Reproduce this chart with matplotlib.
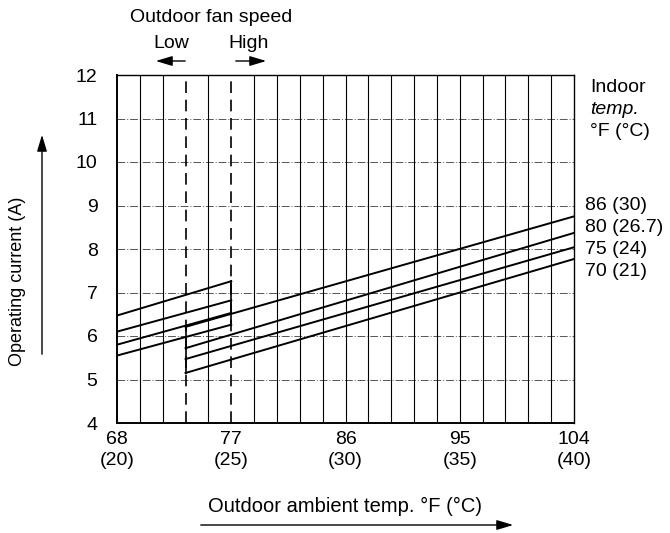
import matplotlib
matplotlib.use('Agg')
import matplotlib.pyplot as plt

plt.rcParams['font.family'] = ['Liberation Sans', 'DejaVu Sans']

# outdoor temp in deg C (x axis), operating current in A
low_x = [20, 25]     # low fan speed range
high_x = [23, 40]    # high fan speed range

low_86 = [6.47, 7.26]
low_80 = [6.10, 6.82]
low_75 = [5.80, 6.53]
low_70 = [5.55, 6.26]

high_86 = [6.21, 8.75]
high_80 = [5.72, 8.37]
high_75 = [5.47, 8.04]
high_70 = [5.15, 7.77]

indoor_labels = ['86 (30)', '80 (26.7)', '75 (24)', '70 (21)']
x_ticks_c = [20, 25, 30, 35, 40]
x_ticks_f = [68, 77, 86, 95, 104]
y_ticks = [4, 5, 6, 7, 8, 9, 10, 11, 12]

W, H = 670, 533
FS = 14


def px(x, y):
    # pixel position (from top-left) -> figure fraction
    return (x / W, 1 - y / H)


fig = plt.figure(figsize=(W / 100, H / 100), dpi=100)
ax = fig.add_axes([117 / W, 1 - 423 / H, (574 - 117) / W, (423 - 75) / H])
ax.set_xlim(20, 40)
ax.set_ylim(4, 12)

# horizontal dash-dot grid
for yv in y_ticks[1:-1]:
    ax.axhline(yv, color='#555555', lw=0.7, ls=(0, (8, 2, 1, 2)), zorder=1)

# vertical grid every 1 deg C, dashed at fan speed change
for xv in range(21, 40):
    if xv in (23, 25):
        ax.axvline(xv, color='k', lw=1.2, ls=(0, (7, 4)), zorder=2)
    else:
        ax.axvline(xv, color='k', lw=0.8, zorder=2)

for yy in [low_86, low_80, low_75, low_70]:
    ax.plot(low_x, yy, color='k', lw=1.4, zorder=3)
for yy in [high_86, high_80, high_75, high_70]:
    ax.plot(high_x, yy, color='k', lw=1.4, zorder=3)

# short solid bits where the line sets stop/start
ax.plot([low_x[1]] * 2, [low_70[1], low_86[1]], color='k', lw=1.2, zorder=3)
ax.plot([high_x[0]] * 2, [high_70[0], high_86[0]], color='k', lw=1.2, zorder=3)

for s in ax.spines.values():
    s.set_linewidth(1.0)
ax.spines['left'].set_linewidth(1.4)
ax.spines['bottom'].set_linewidth(1.4)

ax.set_xticks(x_ticks_c)
ax.set_xticklabels([f'{f}\n({c})' for f, c in zip(x_ticks_f, x_ticks_c)], fontsize=FS)
for lbl in ax.get_xticklabels():
    lbl.set_linespacing(1.25)
ax.set_yticks(y_ticks)
ax.set_yticklabels([str(v) for v in y_ticks], fontsize=FS)
ax.tick_params(axis='x', length=0, pad=6)
ax.tick_params(axis='y', length=0, pad=14)

# indoor temperature labels on the right
fig.text(*px(590, 88), 'Indoor', fontsize=FS, va='center', ha='left')
fig.text(*px(590, 110), 'temp.', fontsize=FS, va='center', ha='left', style='italic')
fig.text(*px(590, 132), '°F (°C)', fontsize=FS, va='center', ha='left')
label_y = [205, 227, 250, 272]
for lab, yp in zip(indoor_labels, label_y):
    fig.text(*px(585, yp), lab, fontsize=FS, va='center', ha='left')

# fan speed header
fig.text(*px(211, 18), 'Outdoor fan speed', fontsize=FS, ha='center', va='center')
fig.text(*px(171, 43), 'Low', fontsize=FS, ha='center', va='center')
fig.text(*px(249, 43), 'High', fontsize=FS, ha='center', va='center')
arrow = dict(arrowstyle='-|>,head_length=1.0,head_width=0.3', color='k', lw=1.0)
fig.add_artist(matplotlib.patches.FancyArrowPatch(px(188, 61), px(153, 61), transform=fig.transFigure, mutation_scale=10, **arrow))
fig.add_artist(matplotlib.patches.FancyArrowPatch(px(233, 61), px(269, 61), transform=fig.transFigure, mutation_scale=10, **arrow))

# axis titles with arrows
fig.text(*px(345, 506), 'Outdoor ambient temp. °F (°C)', fontsize=14.5, ha='center', va='center')
fig.add_artist(matplotlib.patches.FancyArrowPatch(px(198, 525), px(516, 525), transform=fig.transFigure, mutation_scale=10, **arrow))
fig.text(*px(18, 281), 'Operating current (A)', fontsize=13, ha='center', va='center', rotation=90)
fig.add_artist(matplotlib.patches.FancyArrowPatch(px(42, 357), px(42, 132), transform=fig.transFigure, mutation_scale=10, **arrow))

fig.savefig('out.png', dpi=100)
